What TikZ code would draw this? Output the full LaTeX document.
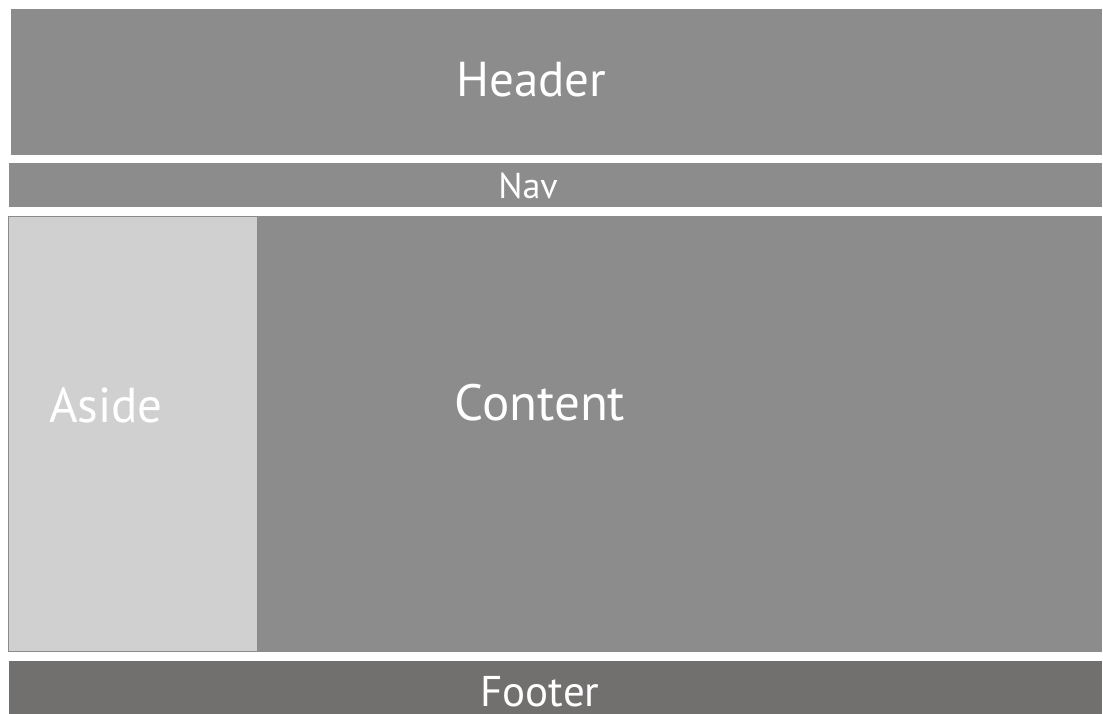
\documentclass[tikz,border=0pt]{standalone}
\usepackage{fontspec}
\setmainfont{PT Sans}
\definecolor{boxgray}{HTML}{8C8C8C}
\definecolor{asidegray}{HTML}{D0D0D0}
\definecolor{asideline}{HTML}{8A8A8A}
\definecolor{footgray}{HTML}{726F6F}
\tikzset{
  block/.style={anchor=north west, inner sep=0pt, outer sep=0pt, draw=none, fill=boxgray},
  lbl/.style={anchor=base, text=white, inner sep=0pt, text depth=0pt},
}
\begin{document}
\begin{tikzpicture}[x=1pt,y=-1pt]
\useasboundingbox[fill=white] (0,0) rectangle (1103,713);
\node[block, minimum width=1091pt, minimum height=146pt] (header) at (11,9) {};
\node[block, minimum width=1093pt, minimum height=44pt] (nav) at (9,163) {};
\node[block, minimum width=1094pt, minimum height=436pt] (content) at (8,216) {};
\node[block, fill=asidegray, draw=asideline, line width=0.8pt, minimum width=249pt, minimum height=435pt] (aside) at (8.4,216.4) {};
\node[block, fill=footgray, minimum width=1093pt, minimum height=53pt] (footer) at (9,661) {};
\node[lbl, font=\fontsize{49}{49}\selectfont] (headerlbl) at (531.5,96) {Header};
\node[lbl, font=\fontsize{36}{36}\selectfont] (navlbl) at (528,198) {Nav};
\node[lbl, font=\fontsize{51}{51}\selectfont] (contentlbl) at (540,420) {Content};
\node[lbl, font=\fontsize{49}{49}\selectfont] (asidelbl) at (106,422) {Aside};
\node[lbl, font=\fontsize{43}{43}\selectfont] (footerlbl) at (540,706) {Footer};
\end{tikzpicture}
\end{document}
